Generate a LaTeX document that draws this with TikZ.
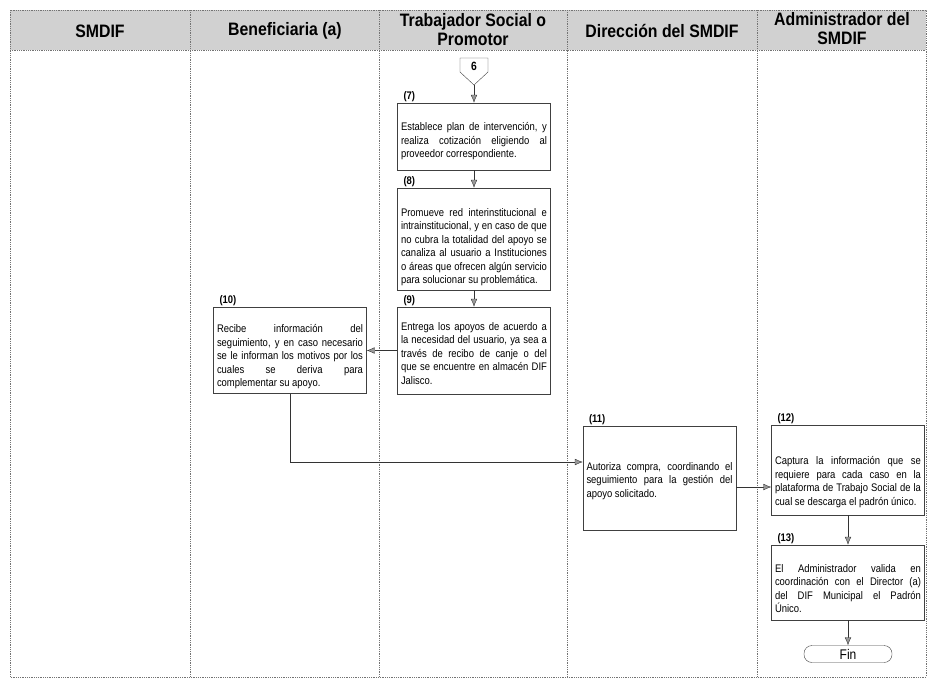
\documentclass[tikz,border=0pt]{standalone}
\usepackage{fontspec}
\setmainfont{Liberation Sans}
\newfontfamily\headfont[FakeStretch=0.88]{Liberation Sans}
\newfontfamily\stepfont[FakeStretch=0.86]{Liberation Sans}
\usetikzlibrary{arrows.meta,positioning}
\tikzset{
    lane-line/.style = {draw=black!55, densely dotted, line width=0.8pt},
    lane-title/.style = {font=\headfont\bfseries\fontsize{18}{19}\selectfont, align=center},
    step-box/.style = {draw=black!75, thin, rectangle, minimum width=153pt, text width=146pt, inner sep=3.5pt, align=justify, font=\stepfont\fontsize{11}{13.5}\selectfont, execute at begin node={\rule{0pt}{#1}}},
    step-box/.default = 0pt,
    step-label/.style = {font=\stepfont\bfseries\fontsize{11}{11}\selectfont, anchor=south west, inner sep=1pt},
    flow-arrow/.style = {draw=black!80, thin, -{Latex[length=8pt,width=6.5pt,fill=black!40]}},
}

\begin{document}
\begin{tikzpicture}[x=1pt, y=-1pt]
\useasboundingbox (0,0) rectangle (929,680);
% lanes
\fill[black!18] (10,10) rectangle (926,50);
\draw[lane-line] (10,10) rectangle (926,677);
\draw[lane-line] (10,50) -- (926,50);
\foreach \x in {190,379,567,757}
    \draw[lane-line] (\x,10) -- (\x,677);
\node[lane-title] (lane-smdif) at (100,31) {SMDIF};
\node[lane-title] (lane-benef) at (285,31) {Beneficiaria (a)};
\node[lane-title] (lane-trab) at (473,30) {Trabajador Social o\\Promotor};
\node[lane-title] (lane-dir) at (662,31) {Dirección del SMDIF};
\node[lane-title] (lane-admin) at (842,29) {Administrador del\\SMDIF};

% connector 6
\draw[draw=black!75, thin] (460,58) -- (488,58) -- (488,72) -- (474,85) -- (460,72) -- cycle;
\node[font=\stepfont\bfseries\fontsize{12}{12}\selectfont] (con6) at (474,66) {6};
\coordinate (con6-tip) at (474,85);

% steps
\node[step-box=18pt, minimum height=67pt] (s7) at (474,136.5) {Establece plan de intervención, y\linebreak realiza cotización eligiendo al\linebreak proveedor correspondiente.};
\node[step-label, xshift=5pt] at (s7.north west) {(7)};

\node[step-box=24pt, minimum height=102pt] (s8) at (474,239) {Promueve red interinstitucional e\linebreak intrainstitucional, y en caso de que\linebreak no cubra la totalidad del apoyo se\linebreak canaliza al usuario a Instituciones\linebreak o áreas que ofrecen algún servicio\linebreak para solucionar su problemática.};
\node[step-label, xshift=5pt] at (s8.north west) {(8)};

\node[step-box=14pt, minimum height=87pt] (s9) at (474,350.5) {Entrega los apoyos de acuerdo a\linebreak la necesidad del usuario, ya sea a\linebreak través de recibo de canje o del\linebreak que se encuentre en almacén DIF\linebreak Jalisco.};
\node[step-label, xshift=5pt] at (s9.north west) {(9)};

\node[step-box=21pt, minimum height=86pt] (s10) at (290,350.5) {Recibe información del\linebreak seguimiento, y en caso necesario\linebreak se le informan los motivos por los\linebreak cuales se deriva para\linebreak complementar su apoyo.};
\node[step-label, xshift=5pt] at (s10.north west) {(10)};

\node[step-box=14pt, minimum height=104pt] (s11) at (659.5,478) {Autoriza compra, coordinando el\linebreak seguimiento para la gestión del\linebreak apoyo solicitado.};
\node[step-label, xshift=5pt] at (s11.north west) {(11)};

\node[step-box=32pt, minimum height=90pt] (s12) at (848,470) {Captura la información que se\linebreak requiere para cada caso en la\linebreak plataforma de Trabajo Social de la\linebreak cual se descarga el padrón único.};
\node[step-label, xshift=5pt] at (s12.north west) {(12)};

\node[step-box=20pt, minimum height=75pt] (s13) at (848,582.5) {El Administrador valida en\linebreak coordinación con el Director (a)\linebreak del DIF Municipal el Padrón\linebreak Único.};
\node[step-label, xshift=5pt] at (s13.north west) {(13)};

\node[draw=black!75, thin, rounded corners=8pt, minimum width=88pt, minimum height=17pt, inner sep=1pt, font=\stepfont\fontsize{14}{14}\selectfont] (fin) at (848,654) {Fin};

% flow
\draw[flow-arrow] (con6-tip) -- (s7);
\draw[flow-arrow] (s7) -- (s8);
\draw[flow-arrow] (s8) -- (s9);
\draw[flow-arrow] (s9.west) -- (s9.west -| s10.east);
\draw[flow-arrow] (s10.south) |- ([yshift=16pt]s11.west);
\draw[flow-arrow] ([yshift=-9pt]s11.east) -- ([yshift=-9pt]s11.east -| s12.west);
\draw[flow-arrow] (s12) -- (s13);
\draw[flow-arrow] (s13) -- (fin);
\end{tikzpicture}
\end{document}
